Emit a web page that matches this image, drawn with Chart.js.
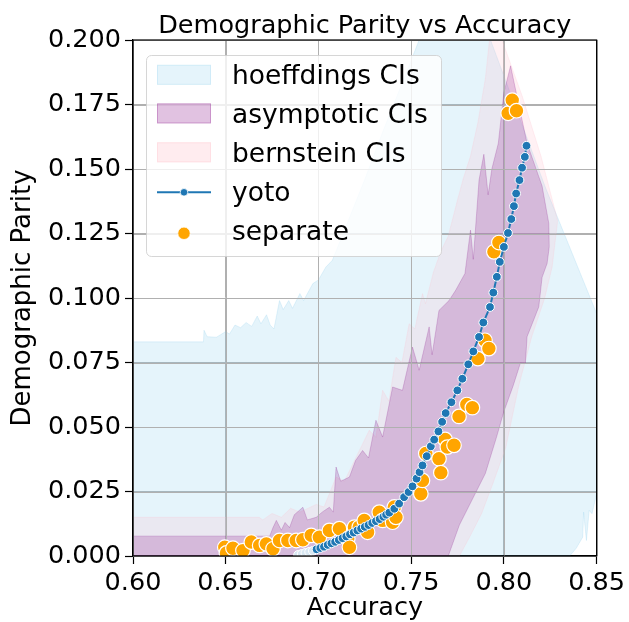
<!DOCTYPE html>
<html><head><meta charset="utf-8">
<script src="https://cdn.jsdelivr.net/npm/chart.js@4.4.0/dist/chart.umd.min.js"></script>
<style>html,body{margin:0;padding:0;background:#fff;}#wrap{width:629px;height:622px;}</style>
</head><body>
<div id="wrap"><canvas id="c" width="629" height="622"></canvas></div>
<script>
// ---------- data ----------
const chartTitle = 'Demographic Parity vs Accuracy';
const xTitle = 'Accuracy';
const yTitle = 'Demographic Parity';
const xTickValues = [0.60, 0.65, 0.70, 0.75, 0.80, 0.85];
const xTickLabels = ['0.60', '0.65', '0.70', '0.75', '0.80', '0.85'];
const yTickValues = [0, 0.025, 0.05, 0.075, 0.1, 0.125, 0.15, 0.175, 0.2];
const yTickLabels = ['0.000', '0.025', '0.050', '0.075', '0.100', '0.125', '0.150', '0.175', '0.200'];
const seriesNames = ['hoeffdings CIs', 'asymptotic CIs', 'bernstein CIs', 'yoto', 'separate'];

// band boundaries: [accuracy, demographic parity]
const hoeffLower = [[0.600,0],[0.8355,0],[0.839,0.003],[0.8425,0.0073],[0.843,0.017],[0.8445,0.006],[0.846,0.0177],[0.8475,0.0164],[0.850,0.024]];
const hoeffUpper = [[0.600,0.0830],[0.638,0.0830],[0.6383,0.0875],[0.640,0.0850],[0.645,0.0848],[0.650,0.0870],[0.652,0.0860],[0.655,0.0895],[0.658,0.0885],[0.661,0.0905],[0.664,0.0890],[0.667,0.0930],[0.669,0.0900],[0.672,0.0935],[0.674,0.0895],[0.676,0.0880],[0.679,0.0990],[0.681,0.0955],[0.684,0.0990],[0.686,0.0960],[0.690,0.1017],[0.692,0.0990],[0.697,0.1056],[0.700,0.1070],[0.704,0.1120],[0.7075,0.1146],[0.715,0.128],[0.725,0.146],[0.735,0.165],[0.745,0.183],[0.7543,0.200],[0.760,0.215],[0.790,0.215],[0.7928,0.200],[0.8223,0.143],[0.850,0.094]];

const asymLower = [[0.600,0],[0.770,0],[0.776,0.0120],[0.783,0.0220],[0.790,0.0320],[0.796,0.0460],[0.800,0.0560],[0.805,0.0660],[0.809,0.0750],[0.8116,0.0747],[0.8125,0.0850],[0.8188,0.0965],[0.8206,0.1080],[0.8233,0.1134],[0.8245,0.1200]];
const asymUpper = [[0.600,0.0077],[0.6737,0.0077],[0.6755,0.0110],[0.6773,0.0138],[0.680,0.0100],[0.682,0.0130],[0.6844,0.0110],[0.687,0.0160],[0.6916,0.0189],[0.694,0.0140],[0.6988,0.0150],[0.702,0.0170],[0.7059,0.0189],[0.708,0.0170],[0.7095,0.0345],[0.712,0.0290],[0.7167,0.0306],[0.720,0.0370],[0.7238,0.0409],[0.727,0.0380],[0.731,0.0526],[0.7346,0.0461],[0.740,0.0655],[0.7453,0.0642],[0.7507,0.0810],[0.7543,0.0720],[0.7597,0.0888],[0.7613,0.0780],[0.765,0.0952],[0.7704,0.0990],[0.774,0.1030],[0.779,0.1095],[0.782,0.1263],[0.7835,0.1150],[0.7866,0.1457],[0.7892,0.1557],[0.7915,0.1400],[0.7935,0.1500],[0.797,0.1600],[0.800,0.1796],[0.8036,0.1900],[0.808,0.1750],[0.8125,0.1600],[0.8206,0.1434],[0.8242,0.1290],[0.8245,0.1200]];

const bernLower = [[0.600,0],[0.776,0],[0.782,0.008],[0.788,0.0165],[0.794,0.028],[0.801,0.042],[0.808,0.066],[0.815,0.085],[0.822,0.100],[0.826,0.112],[0.829,0.130]];
const bernUpper = [[0.600,0.0150],[0.668,0.0150],[0.670,0.0140],[0.675,0.0165],[0.680,0.0150],[0.685,0.0185],[0.690,0.0170],[0.6988,0.0200],[0.703,0.0190],[0.7095,0.0306],[0.714,0.0290],[0.7203,0.0383],[0.7274,0.0487],[0.731,0.0460],[0.7346,0.0642],[0.738,0.0600],[0.7418,0.0770],[0.745,0.0750],[0.7489,0.0900],[0.752,0.0880],[0.7561,0.1017],[0.7577,0.0978],[0.762,0.110],[0.766,0.118],[0.770,0.124],[0.775,0.138],[0.778,0.146],[0.782,0.155],[0.786,0.168],[0.790,0.185],[0.793,0.205],[0.798,0.215],[0.799,0.200],[0.810,0.178],[0.820,0.155],[0.829,0.130]];

const yotoPoints = [[0.6890,0.0004],[0.6910,0.0008],[0.6930,0.0012],[0.6950,0.0016],[0.6970,0.0020],[0.6990,0.0026],[0.7010,0.0031],[0.7030,0.0036],[0.7050,0.0043],[0.7070,0.0049],[0.7090,0.0055],[0.7110,0.0062],[0.7130,0.0069],[0.7150,0.0076],[0.7170,0.0084],[0.7190,0.0091],[0.7210,0.0099],[0.7230,0.0106],[0.7250,0.0113],[0.7270,0.0120],[0.7290,0.0128],[0.7310,0.0135],[0.7330,0.0143],[0.7350,0.0152],[0.7365,0.0160],[0.7382,0.0168],[0.7409,0.0183],[0.7435,0.0203],[0.7462,0.0228],[0.7486,0.0248],[0.7507,0.0270],[0.7529,0.0300],[0.7545,0.0325],[0.7561,0.0351],[0.7584,0.0387],[0.7606,0.0425],[0.7624,0.0451],[0.7647,0.0483],[0.7667,0.0520],[0.7686,0.0554],[0.7717,0.0596],[0.7749,0.0642],[0.7776,0.0687],[0.7808,0.0743],[0.7835,0.0793],[0.7866,0.0849],[0.7889,0.0905],[0.7925,0.0965],[0.7943,0.1021],[0.7962,0.1082],[0.7978,0.1140],[0.8000,0.1198],[0.8022,0.1252],[0.8040,0.1306],[0.8054,0.1356],[0.8066,0.1405],[0.8084,0.1457],[0.8098,0.1505],[0.8113,0.1547],[0.8122,0.1590]];

const separatePoints = [[0.6495,0.0034],[0.6504,0.0012],[0.6539,0.0030],[0.6593,0.0021],[0.6638,0.0054],[0.6683,0.0041],[0.6719,0.0047],[0.6755,0.0028],[0.6790,0.0060],[0.6835,0.0060],[0.6880,0.0060],[0.6916,0.0063],[0.6961,0.0080],[0.7005,0.0073],[0.7059,0.0099],[0.7113,0.0106],[0.7158,0.0067],[0.7167,0.0034],[0.7194,0.0112],[0.7220,0.0112],[0.7247,0.0138],[0.7265,0.0092],[0.7328,0.0170],[0.7346,0.0138],[0.7400,0.0131],[0.7409,0.0190],[0.7418,0.0150],[0.7552,0.0241],[0.7561,0.0293],[0.7579,0.0397],[0.7650,0.0377],[0.7660,0.0323],[0.7683,0.0452],[0.7695,0.0422],[0.7731,0.0429],[0.7758,0.0541],[0.7800,0.0587],[0.7830,0.0575],[0.7860,0.0765],[0.7898,0.0836],[0.7919,0.0804],[0.7946,0.1179],[0.7973,0.1215],[0.8023,0.1716],[0.8045,0.1767],[0.8068,0.1726]];

// ---------- styling ----------
const FONT = 'DejaVu Sans';
const C_HOEFF = 'rgba(135,206,235,0.22)';
const C_ASYM = 'rgba(128,0,128,0.2)';
const C_BERN = 'rgba(255,192,203,0.22)';
const C_YOTO = '#1f77b4';
const C_SEP = '#ffa500';
const YOTO_PALE = 5;

const toXY = arr => arr.map(p => ({x: p[0], y: p[1]}));

function bandLine(label, pts, color, order, fillTarget) {
  return {
    type: 'line', label, data: toXY(pts), order,
    borderColor: color, borderWidth: 1, backgroundColor: color,
    pointRadius: 0, pointHoverRadius: 0, tension: 0,
    fill: fillTarget === undefined ? false : fillTarget, clip: 0
  };
}

const mplPlugin = {
  id: 'mpl',
  beforeDraw(chart) {
    const ctx = chart.ctx;
    ctx.save(); ctx.fillStyle = '#fff'; ctx.fillRect(0, 0, chart.width, chart.height); ctx.restore();
  },
  beforeDatasetDraw(chart, args) {
    if (args.index !== 6) return;
    // grid over the confidence bands (matplotlib draws it above the fills)
    const ctx = chart.ctx, ca = chart.chartArea;
    const xs = chart.scales.x, ys = chart.scales.y;
    ctx.save();
    ctx.strokeStyle = '#b0b0b0'; ctx.lineWidth = 1;
    ctx.beginPath();
    xTickValues.forEach(v => { const p = Math.round(xs.getPixelForValue(v)) + 0.5; ctx.moveTo(p, ca.top); ctx.lineTo(p, ca.bottom); });
    yTickValues.forEach(v => { const p = Math.round(ys.getPixelForValue(v)) + 0.5; ctx.moveTo(ca.left, p); ctx.lineTo(ca.right, p); });
    ctx.stroke();
    ctx.restore();
  },
  afterDatasetsDraw(chart) {
    const ctx = chart.ctx, ca = chart.chartArea;
    ctx.save();
    // axes frame
    ctx.strokeStyle = '#000'; ctx.lineWidth = 1.2;
    ctx.strokeRect(ca.left, ca.top, ca.right - ca.left, ca.bottom - ca.top);
    // legend frame
    const L = ca.left + 13.5, T = ca.top + 15.5, W = 295, H = 201, r = 5;
    ctx.beginPath();
    ctx.moveTo(L + r, T); ctx.lineTo(L + W - r, T); ctx.arcTo(L + W, T, L + W, T + r, r);
    ctx.lineTo(L + W, T + H - r); ctx.arcTo(L + W, T + H, L + W - r, T + H, r);
    ctx.lineTo(L + r, T + H); ctx.arcTo(L, T + H, L, T + H - r, r);
    ctx.lineTo(L, T + r); ctx.arcTo(L, T, L + r, T, r); ctx.closePath();
    ctx.fillStyle = 'rgba(255,255,255,0.8)'; ctx.fill();
    ctx.strokeStyle = 'rgba(204,204,204,0.8)'; ctx.lineWidth = 1; ctx.stroke();
    const hx = ca.left + 24, hw = 54, tx = ca.left + 99;
    const base = [ca.top + 44.3, ca.top + 82.9, ca.top + 121.8, ca.top + 160.7, ca.top + 199.8];
    const patch = [C_HOEFF, 'rgba(128,0,128,0.24)', 'rgba(255,192,203,0.3)'];
    for (let i = 0; i < 3; i++) {
      const cy = base[i] - 9.5;
      ctx.fillStyle = patch[i]; ctx.fillRect(hx, cy - 10, hw, 20);
      ctx.strokeStyle = patch[i]; ctx.lineWidth = 1; ctx.strokeRect(hx + 0.5, cy - 9.5, hw - 1, 19);
    }
    // yoto handle
    let cy = base[3] - 8.4;
    ctx.strokeStyle = C_YOTO; ctx.lineWidth = 2;
    ctx.beginPath(); ctx.moveTo(hx, cy); ctx.lineTo(hx + hw, cy); ctx.stroke();
    ctx.beginPath(); ctx.arc(hx + hw / 2, cy, 3.8, 0, Math.PI * 2);
    ctx.fillStyle = C_YOTO; ctx.fill(); ctx.strokeStyle = '#fff'; ctx.lineWidth = 0.8; ctx.stroke();
    // separate handle
    cy = base[4] - 6.5;
    ctx.beginPath(); ctx.arc(hx + hw / 2, cy, 6.2, 0, Math.PI * 2);
    ctx.fillStyle = C_SEP; ctx.fill(); ctx.strokeStyle = '#fff'; ctx.lineWidth = 0.8; ctx.stroke();
    // texts
    ctx.fillStyle = '#000'; ctx.font = '26.5px "' + FONT + '"';
    ctx.textAlign = 'left'; ctx.textBaseline = 'alphabetic';
    seriesNames.forEach((s, i) => ctx.fillText(s, tx, base[i]));
    ctx.restore();
  }
};

Chart.defaults.font.family = FONT;
Chart.defaults.color = '#000';

new Chart(document.getElementById('c'), {
  type: 'line',
  data: {
    datasets: [
      bandLine('hoeffLower', hoeffLower, C_HOEFF, 10),
      bandLine(seriesNames[0], hoeffUpper, C_HOEFF, 9, 0),
      bandLine('asymLower', asymLower, C_ASYM, 6),
      bandLine(seriesNames[1], asymUpper, C_ASYM, 5, 2),
      bandLine('bernLower', bernLower, C_BERN, 8),
      bandLine(seriesNames[2], bernUpper, C_BERN, 7, 4),
      {
        type: 'line', label: seriesNames[4], data: toXY(separatePoints), order: 2,
        showLine: false, pointRadius: 7.3, pointBackgroundColor: C_SEP,
        pointBorderColor: '#fff', pointBorderWidth: 1.2, clip: 0
      },
      {
        type: 'line', label: seriesNames[3], data: toXY(yotoPoints), order: 1,
        borderColor: C_YOTO, borderWidth: 2, tension: 0,
        pointRadius: 4.4,
        pointBackgroundColor: c => c.dataIndex < YOTO_PALE ? '#d9e8f3' : C_YOTO,
        pointBorderColor: '#fff', pointBorderWidth: 1, clip: 0
      }
    ]
  },
  options: {
    responsive: false, animation: false, devicePixelRatio: 1,
    layout: {padding: {left: 0, right: 32, top: 0, bottom: 0}},
    events: [],
    plugins: {
      legend: {display: false},
      tooltip: {enabled: false},
      title: {
        display: true, text: chartTitle, fullSize: false, color: '#000',
        font: {family: FONT, size: 25.5, weight: 'normal', lineHeight: 1},
        padding: {top: 14, bottom: 0.5}
      }
    },
    scales: {
      x: {
        type: 'linear', min: 0.6, max: 0.85,
        afterFit: s => { s.height = 66; },
        afterBuildTicks: s => { s.ticks = xTickValues.map(v => ({value: v})); },
        ticks: {callback: (v, i) => xTickLabels[i], font: {size: 25.5, lineHeight: 1.2}, padding: 4, maxRotation: 0, autoSkip: false, color: '#000'},
        grid: {color: '#b0b0b0', lineWidth: 1, tickLength: 8, tickColor: '#000', tickWidth: 1.2},
        border: {display: true, color: '#000', width: 1.2},
        title: {display: true, text: xTitle, font: {size: 25.5, lineHeight: 1.2}, padding: {top: 0, bottom: -2}, color: '#000'}
      },
      y: {
        type: 'linear', min: 0, max: 0.2,
        afterFit: s => { s.width = 133; },
        afterBuildTicks: s => { s.ticks = yTickValues.map(v => ({value: v})); },
        ticks: {callback: (v, i) => yTickLabels[i], font: {size: 25.5, lineHeight: 1.2}, padding: 4, autoSkip: false, color: '#000'},
        grid: {color: '#b0b0b0', lineWidth: 1, tickLength: 8, tickColor: '#000', tickWidth: 1.2},
        border: {display: true, color: '#000', width: 1.2},
        title: {display: true, text: yTitle, font: {size: 26, lineHeight: 1.2}, padding: {top: 7.3, bottom: 0}, color: '#000'}
      }
    }
  },
  plugins: [mplPlugin]
});
</script>
</body></html>
